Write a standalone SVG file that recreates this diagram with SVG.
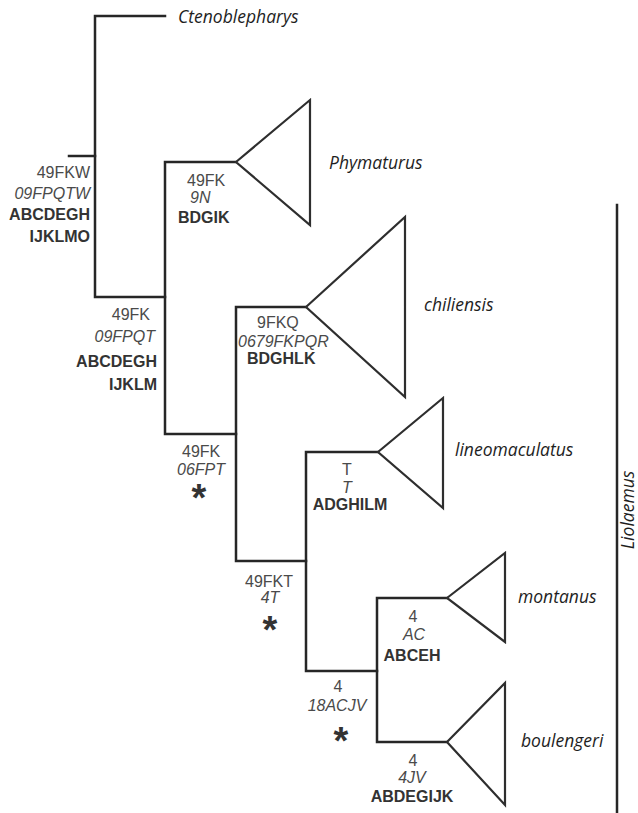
<svg xmlns="http://www.w3.org/2000/svg" width="638" height="813" viewBox="0 0 638 813">
<style>
.ln{fill:none;stroke:#262626;stroke-width:2.5;stroke-linecap:square;stroke-linejoin:miter}
.tri{fill:none;stroke:#2e2e2e;stroke-width:2.2;stroke-linejoin:miter}
.tx{font-family:"Open Sans","Liberation Sans",sans-serif;font-style:italic;font-size:17.5px;fill:#1e1e1e}
.a{font-family:"Liberation Sans",Arial,sans-serif;font-size:16px;fill:#4a4a4a}
.i{font-family:"Liberation Sans",Arial,sans-serif;font-size:16px;font-style:italic;fill:#4a4a4a}
.b{font-family:"Liberation Sans",Arial,sans-serif;font-size:16px;font-weight:bold;fill:#333}
.s{font-family:"Liberation Sans",Arial,sans-serif;font-size:38px;font-weight:bold;fill:#333;text-anchor:middle}
.e{text-anchor:end}
.m{text-anchor:middle}
</style>
<rect width="638" height="813" fill="#fff"/>
<g id="connectors">
<path class="ln" d="M69,156H95"/>
<path class="ln" d="M165,16H95V297H165"/>
<path class="ln" d="M236,162H165V434H236"/>
<path class="ln" d="M306,307H236V561H306"/>
<path class="ln" d="M378,452H306V671H377"/>
<path class="ln" d="M447,598H377V742H447"/>
</g>
<g id="node-ctenoblepharys">
<text class="tx" x="178" y="23">Ctenoblepharys</text>
</g>
<g id="node-phymaturus">
<polygon class="tri" points="236,162 310,100 310,225"/>
<text class="tx" x="329" y="169">Phymaturus</text>
</g>
<g id="node-chiliensis">
<polygon class="tri" points="306,307 405,217 405,397"/>
<text class="tx" x="424" y="311">chiliensis</text>
</g>
<g id="node-lineomaculatus">
<polygon class="tri" points="378,452 443,398 443,508"/>
<text class="tx" x="455" y="456">lineomaculatus</text>
</g>
<g id="node-montanus">
<polygon class="tri" points="447,598 505,553 505,642"/>
<text class="tx" x="518" y="603">montanus</text>
</g>
<g id="node-boulengeri">
<polygon class="tri" points="447,742 505,683 505,805"/>
<text class="tx" x="521" y="747">boulengeri</text>
</g>
<g id="liolaemus">
<path class="ln" d="M617,205V813" stroke-linecap="butt"/>
<text class="tx m" transform="translate(634,510) rotate(-90)">Liolaemus</text>
</g>
<g id="label-root">
<text class="a e" x="90" y="178">49FKW</text>
<text class="i e" x="90" y="199">09FPQTW</text>
<text class="b e" x="90" y="220">ABCDEGH</text>
<text class="b e" x="90" y="242">IJKLMO</text>
</g>
<g id="label-phymaturus">
<text class="a" x="187" y="186">49FK</text>
<text class="i" x="190" y="203">9N</text>
<text class="b" x="178" y="223">BDGIK</text>
</g>
<g id="label-n1">
<text class="a e" x="150" y="320">49FK</text>
<text class="i e" x="155" y="342">09FPQT</text>
<text class="b e" x="157" y="367">ABCDEGH</text>
<text class="b e" x="157" y="390">IJKLM</text>
</g>
<g id="label-chiliensis">
<text class="a" x="257" y="328">9FKQ</text>
<text class="i" x="238" y="347">0679FKPQR</text>
<text class="b" x="247" y="364">BDGHLK</text>
</g>
<g id="label-n2">
<text class="a" x="182" y="457">49FK</text>
<text class="i" x="177" y="475">06FPT</text>
<text class="s" x="199" y="511">*</text>
</g>
<g id="label-lineomaculatus">
<text class="a m" x="347" y="475">T</text>
<text class="i m" x="347" y="493">T</text>
<text class="b m" x="350" y="510">ADGHILM</text>
</g>
<g id="label-n3">
<text class="a" x="245" y="587">49FKT</text>
<text class="i m" x="270" y="603">4T</text>
<text class="s" x="270" y="643">*</text>
</g>
<g id="label-montanus">
<text class="a m" x="413" y="622">4</text>
<text class="i m" x="414" y="640">AC</text>
<text class="b m" x="412" y="661">ABCEH</text>
</g>
<g id="label-n4">
<text class="a m" x="338" y="692">4</text>
<text class="i m" x="337" y="711">18ACJV</text>
<text class="s" x="341" y="754">*</text>
</g>
<g id="label-boulengeri">
<text class="a m" x="413" y="766">4</text>
<text class="i m" x="412" y="783">4JV</text>
<text class="b m" x="412" y="802">ABDEGIJK</text>
</g>
</svg>
